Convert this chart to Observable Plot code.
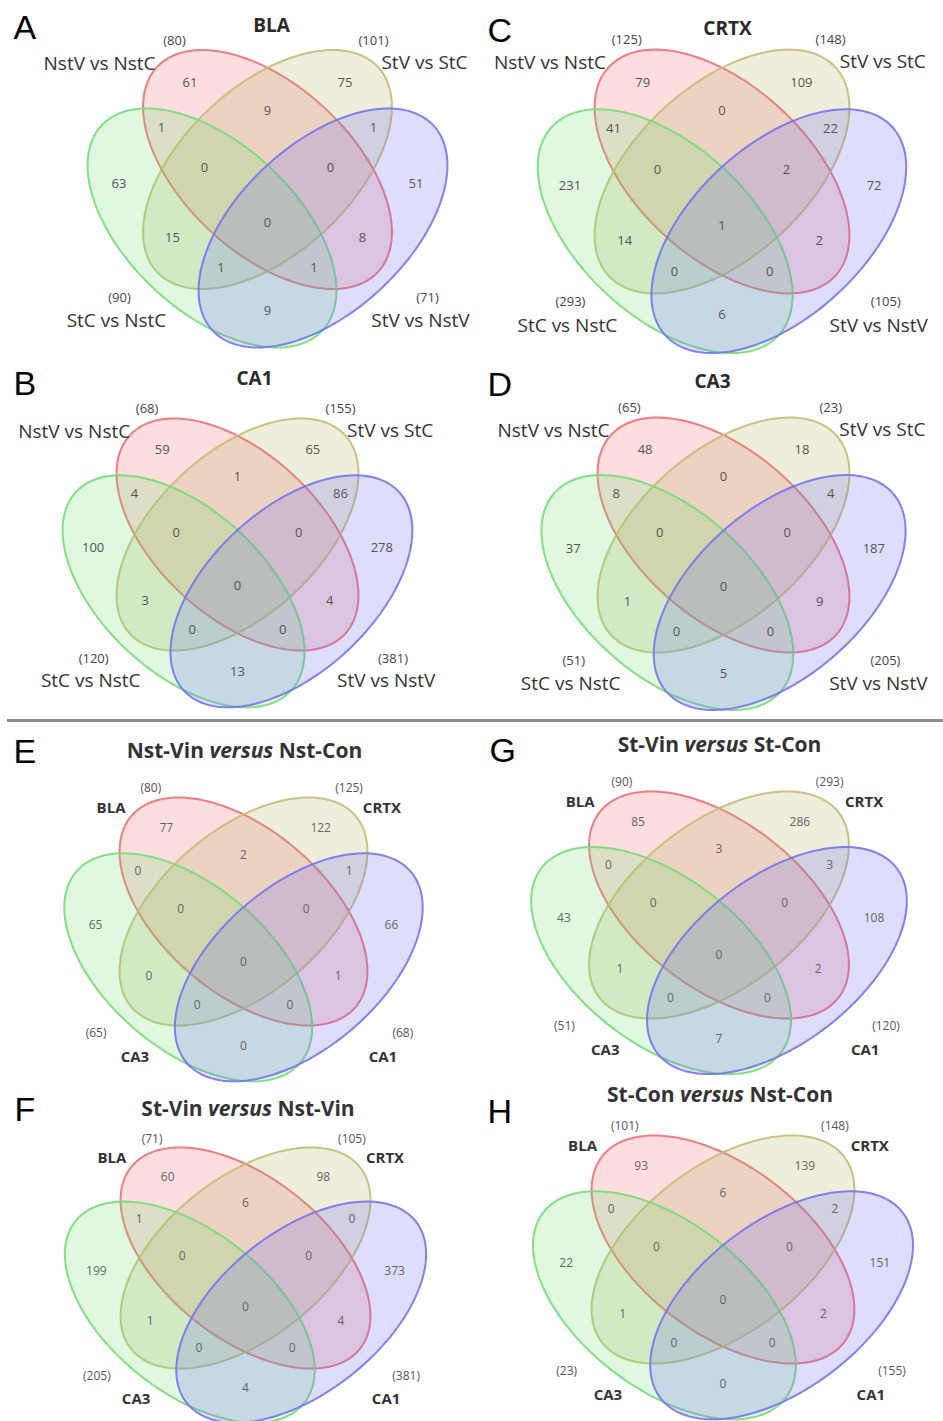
<!DOCTYPE html>
<html><head><meta charset="utf-8">
<script src="https://cdn.jsdelivr.net/npm/d3@7"></script>
<script src="https://cdn.jsdelivr.net/npm/@observablehq/plot@0.6"></script>
<style>body{margin:0;background:#fff}#chart svg{display:block}</style>
</head><body><div id="chart"></div>
<script>
// ---------- DATA ----------
const panelIds = ["A","B","C","D","E","F","G","H"];
const panelTitles = ["BLA","CA1","CRTX","CA3",
  "Nst-Vin versus Nst-Con","St-Vin versus Nst-Vin","St-Vin versus St-Con","St-Con versus Nst-Con"];
const comparisonNames = ["NstV vs NstC","StV vs StC","StC vs NstC","StV vs NstV"];
const brainRegionNames = ["BLA","CRTX","CA3","CA1"];
// region order: R, O, RO, RG, OB, G, B, ROG, ROB, ROGB, OG, RB, OGB, RGB, GB
const regionKeys = ["R","O","RO","RG","OB","G","B","ROG","ROB","ROGB","OG","RB","OGB","RGB","GB"];
const countsA = [61,75,9,1,1,63,51,0,0,0,15,8,1,1,9];
const countsB = [59,65,1,4,86,100,278,0,0,0,3,4,0,0,13];
const countsC = [79,109,0,41,22,231,72,0,2,1,14,2,0,0,6];
const countsD = [48,18,0,8,4,37,187,0,0,0,1,9,0,0,5];
const countsE = [77,122,2,0,1,65,66,0,0,0,0,1,0,0,0];
const countsF = [60,98,6,1,0,199,373,0,0,0,1,4,0,0,4];
const countsG = [85,286,3,0,3,43,108,0,0,0,1,2,0,0,7];
const countsH = [93,139,6,0,2,22,151,0,0,0,1,2,0,0,0];
const setSizesA = [80,101,90,71];
const setSizesB = [68,155,120,381];
const setSizesC = [125,148,293,105];
const setSizesD = [65,23,51,205];
const setSizesE = [80,125,65,68];
const setSizesF = [71,105,205,381];
const setSizesG = [90,293,51,120];
const setSizesH = [101,148,23,155];

const allCounts = [countsA,countsB,countsC,countsD,countsE,countsF,countsG,countsH];
const allSizes = [setSizesA,setSizesB,setSizesC,setSizesD,setSizesE,setSizesF,setSizesG,setSizesH];

// ---------- LAYOUT ----------
const W = 943, H = 1421;
const layout = {
  A:{cx:267,  cy:169,    sx:1.000, sy:1.000, kind:"cmp", letter:[13,28],    title:[271,25]},
  B:{cx:237,  cy:534,    sx:0.972, sy:0.971, kind:"cmp", letter:[13,384],   title:[254,378]},
  C:{cx:721.5,cy:171,    sx:1.024, sy:1.020, kind:"cmp", letter:[487,30.5], title:[727,28]},
  D:{cx:723,  cy:534.5,  sx:1.012, sy:0.983, kind:"cmp", letter:[487,384.5],title:[712,381]},
  E:{cx:243,  cy:911,    sx:0.996, sy:0.954, kind:"reg", letter:[13,751.5], title:[244,751]},
  F:{cx:245,  cy:1257.5, sx:1.004, sy:0.925, kind:"reg", letter:[14,1109.5],title:[247.5,1109]},
  G:{cx:718.5,cy:904.5,  sx:1.044, sy:0.950, kind:"reg", letter:[489,750.5],title:[719,745]},
  H:{cx:722.5,cy:1249,   sx:1.056, sy:0.954, kind:"reg", letter:[487,1111.5],title:[719.5,1095]}
};
const AX = 150.7, BX = 84, TH = 42.8 * Math.PI / 180;
const ellipseDefs = [
  {ox:0,     oy:0,    rot: TH, fill:"#f06a6a", stroke:"#ef6f78"},
  {ox:0,     oy:0,    rot:-TH, fill:"#b4ac5a", stroke:"#c4bc78"},
  {ox:-55.5, oy:58.5, rot: TH, fill:"#6ee06e", stroke:"#78dc78"},
  {ox:55.5,  oy:58.5, rot:-TH, fill:"#6a6af0", stroke:"#7474ee"}
];
const regionOffsets = {
  R:[-77.5,-87], O:[77.5,-87], RO:[0,-59], RG:[-106,-42], OB:[106,-42],
  G:[-148.5,14], B:[148.5,14], ROG:[-63,-2], ROB:[63,-2], ROGB:[0,53],
  OG:[-95,68], RB:[95,68], OGB:[-46.5,98], RGB:[46.5,98], GB:[0,141]
};
const sizeOffsets = [[-93,-129],[106,-129],[-148,128],[160,128]];
const nameOffsets = {
  cmp:[[-168,-106],[157,-107],[-151,151],[153,151]],
  reg:[[-133,-108],[139,-108],[-109,153],[140,153]]
};

// ---------- BUILD ----------
const marks = [];
for (const e of ellipseDefs) {
  const pts = [];
  for (const id of panelIds) {
    const L = layout[id];
    for (let k = 0; k < 160; k++) {
      const t = 2 * Math.PI * k / 160;
      const ux = AX * Math.cos(t), uy = BX * Math.sin(t);
      pts.push({panel:id,
        x: L.cx + L.sx * (e.ox + ux * Math.cos(e.rot) - uy * Math.sin(e.rot)),
        y: L.cy + L.sy * (e.oy + ux * Math.sin(e.rot) + uy * Math.cos(e.rot))});
    }
  }
  marks.push(Plot.line(pts, {x:"x", y:"y", z:"panel", fill:e.fill, fillOpacity:0.22,
    stroke:e.stroke, strokeWidth:2, strokeOpacity:0.9, curve:"linear-closed"}));
}

const regionLabels = [], sizeLabels = [], nameLabels = [], titleLabels = [], letterLabels = [];
panelIds.forEach((id, i) => {
  const L = layout[id];
  allCounts[i].forEach((c, j) => {
    const [dx, dy] = regionOffsets[regionKeys[j]];
    regionLabels.push({x:L.cx + L.sx*dx, y:L.cy + L.sy*dy, text:String(c), kind:L.kind});
  });
  const names = L.kind === "cmp" ? comparisonNames : brainRegionNames;
  allSizes[i].forEach((s, j) => {
    const [dx, dy] = sizeOffsets[j];
    sizeLabels.push({x:L.cx + L.sx*dx, y:L.cy + L.sy*dy, text:`(${s})`, kind:L.kind});
    const [nx, ny] = nameOffsets[L.kind][j];
    nameLabels.push({x:L.cx + L.sx*nx, y:L.cy + L.sy*ny, text:names[j], kind:L.kind});
  });
  titleLabels.push({x:L.title[0], y:L.title[1], text:panelTitles[i], kind:L.kind});
  letterLabels.push({x:L.letter[0], y:L.letter[1], text:id});
});

const sel = k => d => d.kind === k;
marks.push(
  Plot.text(regionLabels.filter(sel("cmp")), {x:"x", y:"y", text:"text", fontSize:13, fill:"#555"}),
  Plot.text(regionLabels.filter(sel("reg")), {x:"x", y:"y", text:"text", fontSize:12, fill:"#666"}),
  Plot.text(sizeLabels.filter(sel("cmp")), {x:"x", y:"y", text:"text", fontSize:13, fill:"#444"}),
  Plot.text(sizeLabels.filter(sel("reg")), {x:"x", y:"y", text:"text", fontSize:12, fill:"#555"}),
  Plot.text(nameLabels.filter(sel("cmp")), {x:"x", y:"y", text:"text", fontSize:19, fill:"#333"}),
  Plot.text(nameLabels.filter(sel("reg")), {x:"x", y:"y", text:"text", fontSize:15, fontWeight:"bold", fill:"#333"}),
  Plot.text(titleLabels.filter(sel("cmp")), {x:"x", y:"y", text:"text", fontSize:19, fontWeight:"bold", fill:"#2a2a2a"}),
  Plot.text(titleLabels.filter(sel("reg")), {x:"x", y:"y", text:"text", fontSize:21, fontWeight:"bold", fill:"#333"}),
  Plot.text(letterLabels, {x:"x", y:"y", text:"text", fontSize:34, textAnchor:"start",
    fontFamily:"'Liberation Sans', Arial, sans-serif", fill:"#000"}),
  Plot.ruleY([720], {x1:7, x2:W, stroke:"#8c8c8c", strokeWidth:3})
);

const chart = Plot.plot({
  width:W, height:H, margin:0,
  x:{domain:[0,W], range:[0,W], axis:null},
  y:{domain:[0,H], range:[0,H], axis:null},
  style:{fontFamily:"'Open Sans', sans-serif", background:"#fff"},
  marks
});
// italicise "versus" in the titles
chart.querySelectorAll("text").forEach(t => {
  const s = t.textContent;
  if (s.includes(" versus ")) {
    const [a, b] = s.split("versus");
    t.textContent = "";
    const ns = "http://www.w3.org/2000/svg";
    const t1 = document.createElementNS(ns, "tspan"); t1.textContent = a;
    const t2 = document.createElementNS(ns, "tspan"); t2.textContent = "versus"; t2.setAttribute("font-style","italic");
    const t3 = document.createElementNS(ns, "tspan"); t3.textContent = b;
    t.append(t1, t2, t3);
  }
});
document.getElementById("chart").append(chart);
</script></body></html>
